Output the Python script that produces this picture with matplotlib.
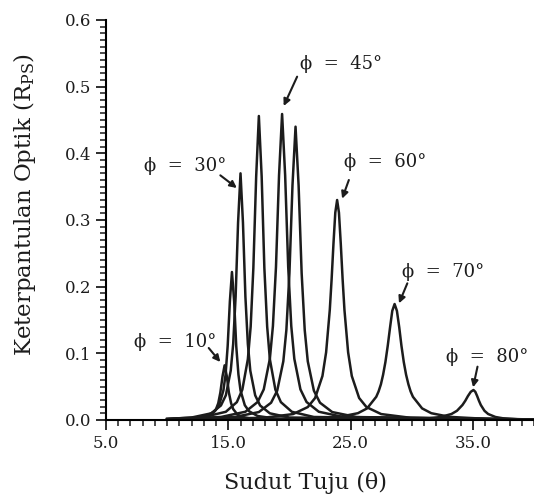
import matplotlib
matplotlib.use("Agg")
import matplotlib.pyplot as plt
from matplotlib.ticker import MultipleLocator, FormatStrFormatter

plt.rcParams.update({"font.family": ["DejaVu Serif"],
                     "mathtext.fontset": "dejavuserif"})

# reflectance curves R_PS(theta), one per azimuth angle phi
x10 = [10, 11.2, 12.6, 13.3, 13.65, 14.0, 14.18, 14.35, 14.53, 14.7, 14.88, 15.05, 15.23, 15.4, 15.75, 16.1, 16.8, 18.2, 40]
y10 = [0.0004, 0.0008, 0.0022, 0.0048, 0.0082, 0.0164, 0.0252, 0.041, 0.0656, 0.082, 0.0656, 0.041, 0.0252, 0.0164, 0.0082, 0.0048, 0.0022, 0.0008, 0.0]

x20 = [10, 11.8, 13.2, 13.9, 14.25, 14.6, 14.78, 14.95, 15.13, 15.3, 15.48, 15.65, 15.83, 16.0, 16.35, 16.7, 17.4, 18.8, 40]
y20 = [0.0012, 0.0022, 0.006, 0.0131, 0.0222, 0.0444, 0.0683, 0.111, 0.178, 0.222, 0.178, 0.111, 0.0683, 0.0444, 0.0222, 0.0131, 0.006, 0.0022, 0.0002]

x30 = [10, 12.0, 13.6, 14.4, 14.8, 15.2, 15.4, 15.6, 15.8, 16.0, 16.2, 16.4, 16.6, 16.8, 17.2, 17.6, 18.4, 20.0, 40]
y30 = [0.0016, 0.0037, 0.01, 0.0218, 0.037, 0.074, 0.114, 0.185, 0.296, 0.37, 0.296, 0.185, 0.114, 0.074, 0.037, 0.0218, 0.01, 0.0037, 0.0002]

x40 = [10, 13.0, 14.8, 15.7, 16.15, 16.6, 16.83, 17.05, 17.28, 17.5, 17.73, 17.95, 18.18, 18.4, 18.85, 19.3, 20.2, 22.0, 40]
y40 = [0.0016, 0.0045, 0.0123, 0.0268, 0.0456, 0.0912, 0.140, 0.228, 0.365, 0.456, 0.365, 0.228, 0.140, 0.0912, 0.0456, 0.0268, 0.0123, 0.0045, 0.0003]

x45 = [10, 14.4, 16.4, 17.4, 17.9, 18.4, 18.65, 18.9, 19.15, 19.4, 19.65, 19.9, 20.15, 20.4, 20.9, 21.4, 22.4, 24.4, 40]
y45 = [0.0014, 0.0045, 0.0124, 0.027, 0.0459, 0.0918, 0.141, 0.2295, 0.367, 0.459, 0.367, 0.2295, 0.141, 0.0918, 0.0459, 0.027, 0.0124, 0.0045, 0.0005]

x50 = [10, 15.5, 17.5, 18.5, 19.0, 19.5, 19.75, 20.0, 20.25, 20.5, 20.75, 21.0, 21.25, 21.5, 22.0, 22.5, 23.5, 25.5, 40]
y50 = [0.001, 0.0044, 0.0119, 0.0259, 0.044, 0.088, 0.135, 0.22, 0.352, 0.44, 0.352, 0.22, 0.135, 0.088, 0.044, 0.0259, 0.0119, 0.0044, 0.0006]

x60 = [10, 17.9, 20.3, 21.5, 22.1, 22.7, 23.0, 23.3, 23.45, 23.6, 23.75, 23.9, 24.05, 24.2, 24.35, 24.5, 24.8, 25.1, 25.7, 26.3, 27.5, 29.9, 40]
y60 = [0.0006, 0.0033, 0.0089, 0.0194, 0.033, 0.066, 0.1015, 0.165, 0.211, 0.264, 0.311, 0.33, 0.311, 0.264, 0.211, 0.165, 0.1015, 0.066, 0.033, 0.0194, 0.0089, 0.0033, 0.0009]

x70 = [10, 21.1, 24.1, 25.6, 26.35, 27.1, 27.29, 27.48, 27.66, 27.85, 28.04, 28.23, 28.41, 28.6, 28.79,
       28.98, 29.16, 29.35, 29.54, 29.73, 29.91, 30.1, 30.85, 31.6, 33.1, 36.1, 40]
y70 = [0.0003, 0.0017, 0.0047, 0.0102, 0.0174, 0.0348, 0.0428, 0.0535, 0.0679, 0.087, 0.1114, 0.139, 0.1637, 0.174, 0.1637,
       0.139, 0.1114, 0.087, 0.0679, 0.0535, 0.0428, 0.0348, 0.0174, 0.0102, 0.0047, 0.0017, 0.0008]

x80 = [10, 26.05, 29.65, 31.45, 32.35, 33.25, 33.7, 34.15, 34.38, 34.6, 34.83, 35.05, 35.2, 35.35, 35.5, 35.65,
       35.95, 36.25, 36.85, 37.45, 38.65, 40]
y80 = [0.0001, 0.00045, 0.0012, 0.0026, 0.0045, 0.009, 0.0138, 0.0225, 0.0288, 0.036, 0.0423, 0.045, 0.0423, 0.036, 0.0288, 0.0225,
       0.0138, 0.009, 0.0045, 0.0026, 0.0012, 0.0007]

curves = [(x10, y10), (x20, y20), (x30, y30), (x40, y40), (x45, y45),
          (x50, y50), (x60, y60), (x70, y70), (x80, y80)]

# labels: text, text position, arrow tail, arrow tip
labels = ["ϕ  =  10°", "ϕ  =  30°", "ϕ  =  45°", "ϕ  =  60°", "ϕ  =  70°", "ϕ  =  80°"]
label_xy = [(10.65, 0.117), (11.5, 0.381), (24.26, 0.534), (27.87, 0.387), (32.54, 0.222), (36.15, 0.094)]
tail_xy = [(13.4, 0.108), (14.35, 0.367), (20.63, 0.515), (24.86, 0.36), (29.64, 0.205), (35.38, 0.080)]
tip_xy = [(14.35, 0.087), (15.7, 0.348), (19.53, 0.471), (24.31, 0.332), (28.96, 0.175), (35.02, 0.049)]

INK = "#1c1c1c"
fig = plt.figure(figsize=(5.34, 5.0), dpi=100)
ax = fig.add_axes([0.1985, 0.16, 0.8015, 0.80])

for xs, ys in curves:
    ax.plot(xs, ys, color=INK, lw=1.8, solid_joinstyle="round")

for t, (tx, ty), tl, tp in zip(labels, label_xy, tail_xy, tip_xy):
    ax.text(tx, ty, t, fontsize=13, ha="center", va="center", color=INK)
    ax.annotate("", xy=tp, xytext=tl,
                arrowprops=dict(arrowstyle="-|>", color=INK, lw=1.5,
                                mutation_scale=10, shrinkA=0, shrinkB=0))

ax.set_xlim(5, 40)
ax.set_ylim(0, 0.6)
ax.spines["top"].set_visible(False)
ax.spines["right"].set_visible(False)
ax.spines["left"].set_linewidth(1.5)
ax.spines["bottom"].set_linewidth(1.5)
ax.set_xticks([5, 15, 25, 35])
ax.xaxis.set_minor_locator(MultipleLocator(1))
ax.yaxis.set_major_locator(MultipleLocator(0.1))
ax.yaxis.set_minor_locator(MultipleLocator(0.01))
ax.xaxis.set_major_formatter(FormatStrFormatter("%.1f"))
ax.yaxis.set_major_formatter(FormatStrFormatter("%.1f"))
ax.tick_params(which="major", length=7, width=1.3, labelsize=12, colors=INK)
ax.tick_params(which="minor", length=4, width=1.1, colors=INK)

ax.set_xlabel("Sudut Tuju (θ)", fontsize=16, color=INK)
ax.set_ylabel(r"Keterpantulan Optik (R$_{\mathrm{PS}}$)", fontsize=16.5, color=INK)
ax.xaxis.set_label_coords(0.467, -0.13)
ax.yaxis.set_label_coords(-0.16, 0.54)

fig.savefig("out.png", dpi=100)
